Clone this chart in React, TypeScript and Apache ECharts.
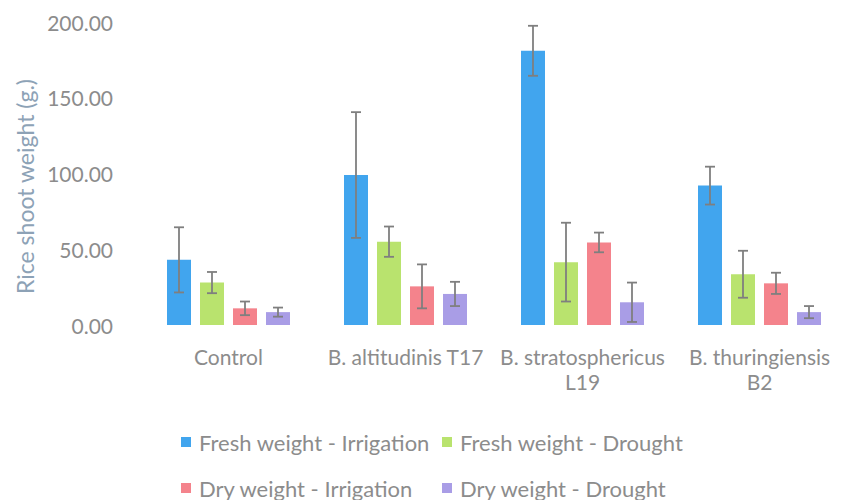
import React, { useEffect, useRef } from "react";
import * as echarts from "echarts";

const categories = [
  "Control",
  "B. altitudinis T17",
  "B. stratosphericus\nL19",
  "B. thuringiensis\nB2",
];

const seriesNames = [
  "Fresh weight - Irrigation",
  "Fresh weight - Drought",
  "Dry weight - Irrigation",
  "Dry weight - Drought",
];

const freshIrrigation = [43, 99, 181, 92];
const freshDrought = [28, 55, 41.5, 33.5];
const dryIrrigation = [11, 25.5, 54.5, 27.5];
const dryDrought = [8.5, 20.5, 15, 8.5];

const freshIrrigationErr = [21.5, 41.5, 16.5, 12.5];
const freshDroughtErr = [7, 10, 26, 15.5];
const dryIrrigationErr = [4.5, 14.5, 6.5, 7];
const dryDroughtErr = [3, 8, 13, 4];

const yTicks = [0, 50, 100, 150, 200];

const colors = ["#41a5ee", "#b9e36e", "#f4838c", "#a99de6"];

const BAR_W = 24;
const BAR_GAP = 9;
const FONT = "Lato, 'Open Sans', sans-serif";
const TEXT = "#8c8c8c";
const FS = 21;

export default function App() {
  const ref = useRef<HTMLDivElement>(null);

  useEffect(() => {
    if (!ref.current) return;
    const chart = echarts.init(ref.current, undefined, { renderer: "svg" });

    const values = [freshIrrigation, freshDrought, dryIrrigation, dryDrought];
    const errors = [freshIrrigationErr, freshDroughtErr, dryIrrigationErr, dryDroughtErr];

    const barSeries = values.map((v, i) => ({
      name: seriesNames[i],
      type: "bar",
      data: v,
      barWidth: BAR_W,
      barGap: `${(BAR_GAP / BAR_W) * 100}%`,
      itemStyle: { color: colors[i] },
    }));

    const errData: number[][] = [];
    values.forEach((v, s) =>
      v.forEach((val, c) => errData.push([c, val, errors[s][c], s]))
    );

    const groupW = 4 * BAR_W + 3 * BAR_GAP;

    // error bars: whisker from mean - err to mean + err with short caps
    const errSeries = {
      type: "custom",
      z: 10,
      silent: true,
      data: errData,
      encode: { x: 0, y: 1 },
      renderItem: (_params: any, api: any) => {
        const c = api.value(0);
        const v = api.value(1);
        const e = api.value(2);
        const s = api.value(3);
        const top = api.coord([c, v + e]);
        const bot = api.coord([c, Math.max(0, v - e)]);
        const x = top[0] - groupW / 2 + BAR_W / 2 + s * (BAR_W + BAR_GAP);
        const cap = 5;
        const style = { stroke: "#7f7f7f", lineWidth: 1.8 };
        return {
          type: "group",
          children: [
            { type: "line", shape: { x1: x, y1: top[1], x2: x, y2: bot[1] }, style },
            { type: "line", shape: { x1: x - cap, y1: top[1], x2: x + cap, y2: top[1] }, style },
            { type: "line", shape: { x1: x - cap, y1: bot[1], x2: x + cap, y2: bot[1] }, style },
          ],
        };
      },
    };

    const legendPos = [
      { left: 176, top: 426 },
      { left: 437, top: 426 },
      { left: 176, top: 472 },
      { left: 437, top: 472 },
    ];

    chart.setOption({
      animation: false,
      textStyle: { fontFamily: FONT },
      legend: seriesNames.map((n, i) => ({
        data: [n],
        left: legendPos[i].left,
        top: legendPos[i].top,
        icon: "rect",
        itemWidth: 10,
        itemHeight: 10,
        itemGap: 4,
        textStyle: { color: TEXT, fontSize: 22, fontFamily: FONT, padding: [0, 0, 0, 3] },
      })),
      grid: { left: 140, top: 22, width: 720, height: 303 },
      xAxis: {
        type: "category",
        data: categories,
        axisLine: { show: false },
        axisTick: { show: false },
        axisLabel: {
          color: TEXT,
          fontSize: FS,
          fontFamily: FONT,
          lineHeight: 25,
          margin: 19,
          interval: 0,
        },
      },
      yAxis: {
        type: "value",
        min: yTicks[0],
        max: yTicks[yTicks.length - 1],
        interval: yTicks[1] - yTicks[0],
        name: "Rice shoot weight (g.)",
        nameLocation: "middle",
        nameGap: 102,
        nameTextStyle: {
          color: "#8da2b6",
          fontSize: 23,
          fontFamily: FONT,
          padding: [0, 26, 0, 0],
        },
        axisLine: { show: false },
        axisTick: { show: false },
        splitLine: { show: false },
        axisLabel: {
          color: TEXT,
          fontSize: FS,
          fontFamily: FONT,
          margin: 27,
          formatter: (v: number) => v.toFixed(2),
        },
      },
      series: [...barSeries, errSeries],
    });

    return () => chart.dispose();
  }, []);

  return (
    <div
      ref={ref}
      style={{ position: "absolute", left: 0, top: 0, width: 848, height: 500 }}
    />
  );
}
